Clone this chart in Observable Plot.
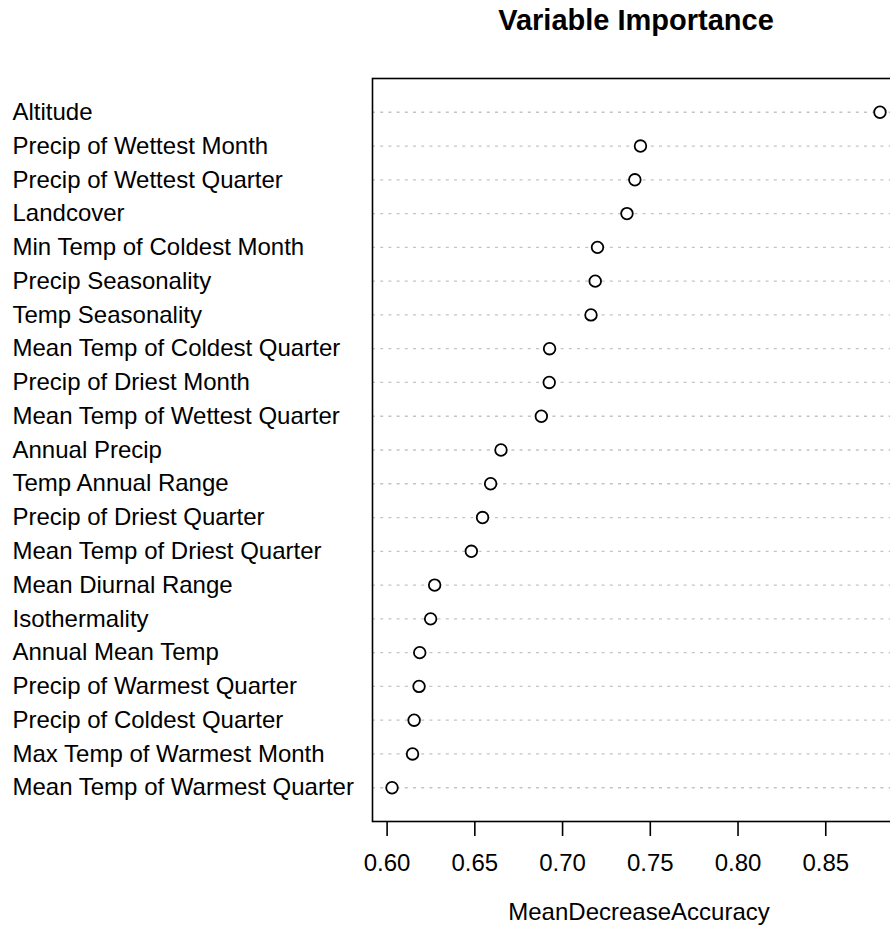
<!DOCTYPE html>
<html>
<head>
<meta charset="utf-8">
<script src="https://cdn.jsdelivr.net/npm/d3@7"></script>
<script src="https://cdn.jsdelivr.net/npm/@observablehq/plot@0.6"></script>
<style>
  html, body { margin: 0; padding: 0; background: #fff; }
  #chart svg { display: block; }
</style>
</head>
<body>
<div id="chart"></div>
<script>
// Predictor names, ordered from most to least important (top to bottom)
const variables = [
  "Altitude",
  "Precip of Wettest Month",
  "Precip of Wettest Quarter",
  "Landcover",
  "Min Temp of Coldest Month",
  "Precip Seasonality",
  "Temp Seasonality",
  "Mean Temp of Coldest Quarter",
  "Precip of Driest Month",
  "Mean Temp of Wettest Quarter",
  "Annual Precip",
  "Temp Annual Range",
  "Precip of Driest Quarter",
  "Mean Temp of Driest Quarter",
  "Mean Diurnal Range",
  "Isothermality",
  "Annual Mean Temp",
  "Precip of Warmest Quarter",
  "Precip of Coldest Quarter",
  "Max Temp of Warmest Month",
  "Mean Temp of Warmest Quarter"
];

// Mean decrease in accuracy for each predictor
const meanDecreaseAccuracy = [
  0.8809, 0.7444, 0.7412, 0.7367, 0.7199, 0.7186, 0.7162,
  0.6926, 0.6924, 0.6879, 0.6649, 0.6590, 0.6544, 0.6480,
  0.6271, 0.6248, 0.6186, 0.6182, 0.6154, 0.6145, 0.6028
];

const xTicks = [0.60, 0.65, 0.70, 0.75, 0.80, 0.85];

const rows = variables.map((name, i) => ({name, value: meanDecreaseAccuracy[i]}));

// Pad the x domain by 4% on both sides, like a classic dotchart
const [lo, hi] = d3.extent(meanDecreaseAccuracy);
const pad = (hi - lo) * 0.04;

const font = "'Liberation Sans', Arial, Helvetica, sans-serif";

const chart = Plot.plot({
  width: 890,
  height: 937,
  marginLeft: 372,
  marginRight: -9,
  marginTop: 78,
  marginBottom: 116,
  style: {fontFamily: font, fontSize: "24px", color: "#000", background: "#fff"},
  x: {domain: [lo - pad, hi + pad]},
  y: {type: "point", domain: variables, padding: 1, round: false},
  marks: [
    Plot.ruleY(rows, {y: "name", stroke: "#c4c4c4", strokeWidth: 1.3, strokeDasharray: "3,5.2"}),
    Plot.dot(rows, {x: "value", y: "name", r: 5.8, stroke: "#000", strokeWidth: 1.8, fill: "#fff"}),
    Plot.frame({stroke: "#000", strokeWidth: 1.6}),
    Plot.axisX({
      ticks: xTicks,
      tickFormat: d3.format(".2f"),
      tickSize: 15,
      tickPadding: 17,
      strokeWidth: 1.6,
      fontSize: 24,
      label: null
    }),
    Plot.axisY({
      tickSize: 0,
      tickPadding: 0,
      textAnchor: "start",
      dx: -360,
      fontSize: 24,
      label: null
    }),
    Plot.text(["MeanDecreaseAccuracy"], {
      text: d => d,
      frameAnchor: "bottom",
      dy: 98,
      dx: 3,
      fontSize: 24
    }),
    Plot.text(["Variable Importance"], {
      text: d => d,
      frameAnchor: "top",
      dy: -69,
      fontSize: 29,
      fontWeight: "bold"
    })
  ]
});

document.getElementById("chart").appendChild(chart);
</script>
</body>
</html>
